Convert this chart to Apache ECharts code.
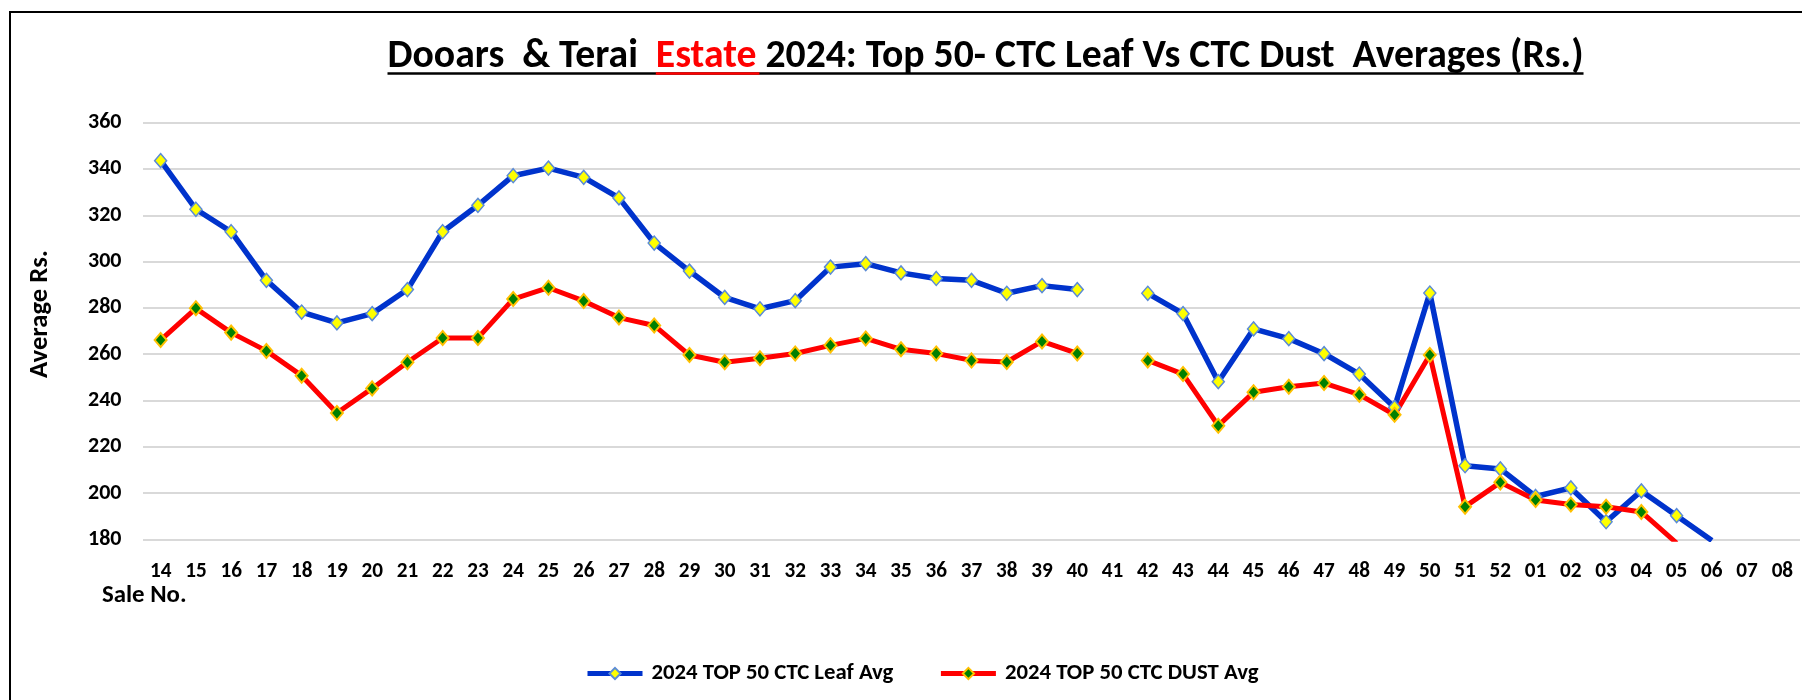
<!DOCTYPE html>
<html>
<head>
<meta charset="utf-8">
<script src="https://cdn.jsdelivr.net/npm/echarts@6/dist/echarts.min.js"></script>
<style>
html,body{margin:0;padding:0;background:#fff;}
#chart{width:1802px;height:700px;}
</style>
</head>
<body>
<div id="chart"></div>
<script>
// ---------- data ----------
const saleNos = ['14','15','16','17','18','19','20','21','22','23','24','25','26','27','28','29','30','31','32','33','34','35','36','37','38','39','40','41','42','43','44','45','46','47','48','49','50','51','52','01','02','03','04','05','06','07','08'];
const leafAvg = [343.6, 322.6, 312.9, 291.9, 278.2, 273.5, 277.5, 287.9, 312.9, 324.3,
                 337.1, 340.4, 336.4, 327.5, 308.0, 295.9, 284.5, 279.6, 283.1, 297.6,
                 299.1, 295.1, 292.7, 291.9, 286.3, 289.6, 287.9, null, 286.3, 277.5,
                 248.1, 270.9, 266.7, 260.2, 251.4, 237.0, 286.4, 211.8, 210.4, 198.5,
                 202.2, 187.6, 200.9, 190.2, 179.5, null, null];
const dustAvg = [266.1, 279.8, 269.3, 261.4, 250.7, 234.6, 245.2, 256.5, 267.0, 267.0,
                 283.8, 288.7, 283.0, 275.8, 272.4, 259.6, 256.5, 258.2, 260.3, 263.8,
                 266.8, 262.1, 260.3, 257.3, 256.6, 265.5, 260.3, null, 257.3, 251.4,
                 229.1, 243.5, 245.9, 247.5, 242.5, 233.8, 259.6, 194.1, 204.6, 197.0,
                 195.0, 194.1, 191.8, 178.4, null, null, null];
const seriesNames = ['2024 TOP 50 CTC Leaf Avg', '2024 TOP 50 CTC DUST Avg'];
const yTicks = {min: 180, max: 360, interval: 20};
const titleParts = ['Dooars  & Terai  ', 'Estate', ' 2024: Top 50- CTC Leaf Vs CTC Dust  Averages (Rs.)'];
const yAxisTitle = 'Average Rs.';
const xAxisTitle = 'Sale No.';

// ---------- font helpers ----------
const mctx = document.createElement('canvas').getContext('2d');
function hasFont(name) {
  const s = 'abcdefghijklmnopqrstuvwxyzABCDEFGHIJKLMNOPQRSTUVWXYZ0123456789';
  for (const fb of ['monospace', 'serif']) {
    mctx.font = 'bold 40px ' + fb; const w1 = mctx.measureText(s).width;
    mctx.font = 'bold 40px "' + name + '", ' + fb; const w2 = mctx.measureText(s).width;
    if (Math.abs(w1 - w2) > 0.5) return true;
  }
  return false;
}
const fontName = ['Carlito', 'Liberation Sans Narrow', 'DejaVu Sans Condensed', 'Roboto Condensed', 'Liberation Sans', 'Open Sans'].find(hasFont) || 'sans-serif';
const FAM = '"' + fontName + '", sans-serif';
function tw(str, size) { mctx.font = 'bold ' + size + 'px ' + FAM; return mctx.measureText(str).width; }
function fit(str, target) { return 100 * target / tw(str, 100); }
function midDesc(str, size) {
  mctx.font = 'bold ' + size + 'px ' + FAM; mctx.textBaseline = 'middle';
  const d = mctx.measureText(str).actualBoundingBoxDescent; mctx.textBaseline = 'alphabetic'; return d;
}

const gridTop = 122.7, gridBottomY = 539.3, gridLeft = 143, gridRight = 2;
const ySize = fit('360', 33.5);
const xSize = fit('14', 21.5);
const xBaseline = 576.7;
const xMargin = xBaseline - midDesc('14', xSize) - xSize / 2 - gridBottomY;

const fullTitle = titleParts.join('');
const titleSize = fit(fullTitle, 1196.5);
const titleLeft = 387.5, titleBaseline = 67.3, titleLH = Math.round(titleSize * 1.2);
const titleTop = titleBaseline - titleLH / 2 - midDesc('D', titleSize);
const w0 = tw(titleParts[0], titleSize), w1 = tw(titleParts[1], titleSize), wAll = tw(fullTitle, titleSize);
const ulY = 73.6;

const legSize = fit(seriesNames[0], 242);
const saleSize = fit(xAxisTitle, 84.6);
const saleBaseline = 601.7;
const nameSize = fit(yAxisTitle, 128);

const chart = echarts.init(document.getElementById('chart'), null, {renderer: 'canvas'});
const option = {
  animation: false,
  backgroundColor: '#ffffff',
  title: {
    text: '{a|' + titleParts[0] + '}{e|' + titleParts[1] + '}{a|' + titleParts[2] + '}',
    left: titleLeft, top: titleTop, padding: 0,
    textStyle: {
      rich: {
        a: {fontSize: titleSize, fontWeight: 'bold', fontFamily: FAM, color: '#000000', lineHeight: titleLH},
        e: {fontSize: titleSize, fontWeight: 'bold', fontFamily: FAM, color: '#ff0000', lineHeight: titleLH}
      }
    }
  },
  legend: {
    data: seriesNames,
    left: 585, top: 662, padding: 0,
    itemWidth: 55, itemHeight: 14, itemGap: 45,
    lineStyle: {width: 5},
    textStyle: {fontSize: legSize, fontWeight: 'bold', fontFamily: FAM, color: '#000', lineHeight: 16, padding: [0, 0, 0, 4]}
  },
  grid: {left: gridLeft, right: gridRight, top: gridTop, bottom: 700 - gridBottomY, containLabel: false, outerBoundsMode: 'none'},
  xAxis: {
    type: 'category', data: saleNos, boundaryGap: true,
    axisLine: {show: false}, axisTick: {show: false}, splitLine: {show: false},
    axisLabel: {interval: 0, color: '#000', fontWeight: 'bold', fontSize: xSize, fontFamily: FAM, margin: xMargin, lineHeight: xSize}
  },
  yAxis: {
    type: 'value', min: yTicks.min, max: yTicks.max, interval: yTicks.interval,
    axisLine: {show: false}, axisTick: {show: false},
    axisLabel: {color: '#000', fontWeight: 'bold', fontSize: ySize, fontFamily: FAM, margin: 21.5},
    splitLine: {show: true, lineStyle: {color: '#d9d9d9', width: 2}}
  },
  series: [
    {
      name: seriesNames[0], type: 'line', data: leafAvg, clip: true,
      symbol: 'diamond', symbolSize: [12, 14], showSymbol: true, showAllSymbol: true, connectNulls: false,
      lineStyle: {color: '#0033cc', width: 5.5},
      itemStyle: {color: '#ffff00', borderColor: '#5b8bd6', borderWidth: 1.5},
      emphasis: {disabled: true}
    },
    {
      name: seriesNames[1], type: 'line', data: dustAvg, clip: true,
      symbol: 'diamond', symbolSize: [12, 14], showSymbol: true, showAllSymbol: true, connectNulls: false,
      lineStyle: {color: '#ff0000', width: 5},
      itemStyle: {color: '#008000', borderColor: '#ffc000', borderWidth: 2},
      emphasis: {disabled: true}
    }
  ],
  graphic: [
    {type: 'rect', shape: {x: 10, y: 12, width: 1800, height: 700}, style: {fill: 'none', stroke: '#000', lineWidth: 2}, silent: true, z: 0},
    {type: 'line', shape: {x1: titleLeft, y1: ulY, x2: titleLeft + wAll, y2: ulY}, style: {stroke: '#000', lineWidth: 2.5}, silent: true},
    {type: 'line', shape: {x1: titleLeft + w0, y1: ulY, x2: titleLeft + w0 + w1 + 3, y2: ulY}, style: {stroke: '#ff0000', lineWidth: 2.5}, silent: true},
    {type: 'text', x: 102, y: saleBaseline - midDesc('S', saleSize), silent: true,
     style: {text: xAxisTitle, font: 'bold ' + saleSize + 'px ' + FAM, fill: '#000', align: 'left', verticalAlign: 'middle', textAlign: 'left', textVerticalAlign: 'middle'}},
    {type: 'text', x: 40.5, y: 314, rotation: Math.PI / 2, silent: true,
     style: {text: yAxisTitle, font: 'bold ' + nameSize + 'px ' + FAM, fill: '#000', align: 'center', verticalAlign: 'middle', textAlign: 'center', textVerticalAlign: 'middle'}}
  ]
};
chart.setOption(option);
</script>
</body>
</html>
